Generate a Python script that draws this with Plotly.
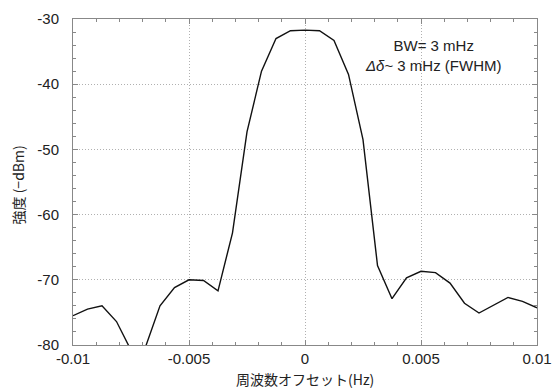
import plotly.graph_objects as go

offset_hz = [-0.01, -0.009375, -0.00875, -0.008125, -0.0075, -0.006875, -0.00625,
             -0.005625, -0.005, -0.004375, -0.00375, -0.003125, -0.0025, -0.001875,
             -0.00125, -0.000625, 0.0, 0.000625, 0.00125, 0.001875, 0.0025, 0.003125,
             0.00375, 0.004375, 0.005, 0.005625, 0.00625, 0.006875, 0.0075, 0.008125,
             0.00875, 0.009375, 0.01]
intensity_dbm = [-75.5, -74.5, -74.0, -76.4, -80.8, -80.3, -74.0,
                 -71.2, -70.0, -70.1, -71.7, -62.8, -47.3, -38.0,
                 -33.0, -31.8, -31.7, -31.8, -33.3, -38.5, -48.5, -67.8,
                 -72.9, -69.7, -68.7, -68.9, -70.5, -73.6, -75.1, -73.9,
                 -72.7, -73.3, -74.3]
x_ticks = [-0.01, -0.005, 0, 0.005, 0.01]
x_tick_labels = ["-0.01", "-0.005", "0", "0.005", "0.01"]
y_ticks = [-80, -70, -60, -50, -40, -30]
y_tick_labels = ["-80", "-70", "-60", "-50", "-40", "-30"]

font_family = "Liberation Sans, Arial, Noto Sans CJK JP, sans-serif"
cjk_font = "Noto Sans CJK JP, sans-serif"

fig = go.Figure()
fig.add_trace(go.Scatter(x=offset_hz, y=intensity_dbm, mode="lines",
                         line=dict(color="#111111", width=1.4),
                         showlegend=False, cliponaxis=True))

axis_common = dict(
    showline=True, linecolor="#888888", linewidth=1, mirror="ticks",
    ticks="inside", ticklen=5, tickcolor="#888888",
    showgrid=True, gridcolor="#b0b0b0", griddash="1px,2px", gridwidth=1,
    zeroline=False, automargin=False,
    tickfont=dict(family=font_family, size=15, color="#222222"),
)

fig.update_xaxes(range=[-0.01, 0.01], tickvals=x_ticks, ticktext=x_tick_labels,
                 ticklabelstandoff=0,
                 minor=dict(dtick=0.001, ticks="inside", ticklen=3, tickcolor="#888888", showgrid=False),
                 **axis_common)
fig.update_yaxes(range=[-80, -30], tickvals=y_ticks, ticktext=y_tick_labels,
                 ticklabelstandoff=10,
                 minor=dict(dtick=2, ticks="inside", ticklen=3, tickcolor="#888888", showgrid=False),
                 **axis_common)

fig.add_annotation(x=0.5, y=-0.104, xref="paper", yref="paper",
                   text="周波数オフセット(Hz)", showarrow=False,
                   xanchor="center", yanchor="middle",
                   font=dict(family=cjk_font, size=14, color="#222222"))
fig.add_annotation(x=-0.118, y=0.49, xref="paper", yref="paper",
                   text="強度 (−dBm)", showarrow=False, textangle=-90,
                   xanchor="center", yanchor="middle",
                   font=dict(family=cjk_font, size=14, color="#222222"))

fig.add_annotation(x=0.0055, y=-32.5, xref="x", yref="y",
                   text="BW= 3 mHz<br><i>Δδ</i>~ 3 mHz (FWHM)",
                   showarrow=False, align="center", xanchor="center", yanchor="top",
                   font=dict(family=font_family, size=15, color="#222222"))

fig.update_layout(width=553, height=391,
                  margin=dict(l=73, r=16, t=19, b=46),
                  paper_bgcolor="white", plot_bgcolor="white")

fig.write_html("out.html")
